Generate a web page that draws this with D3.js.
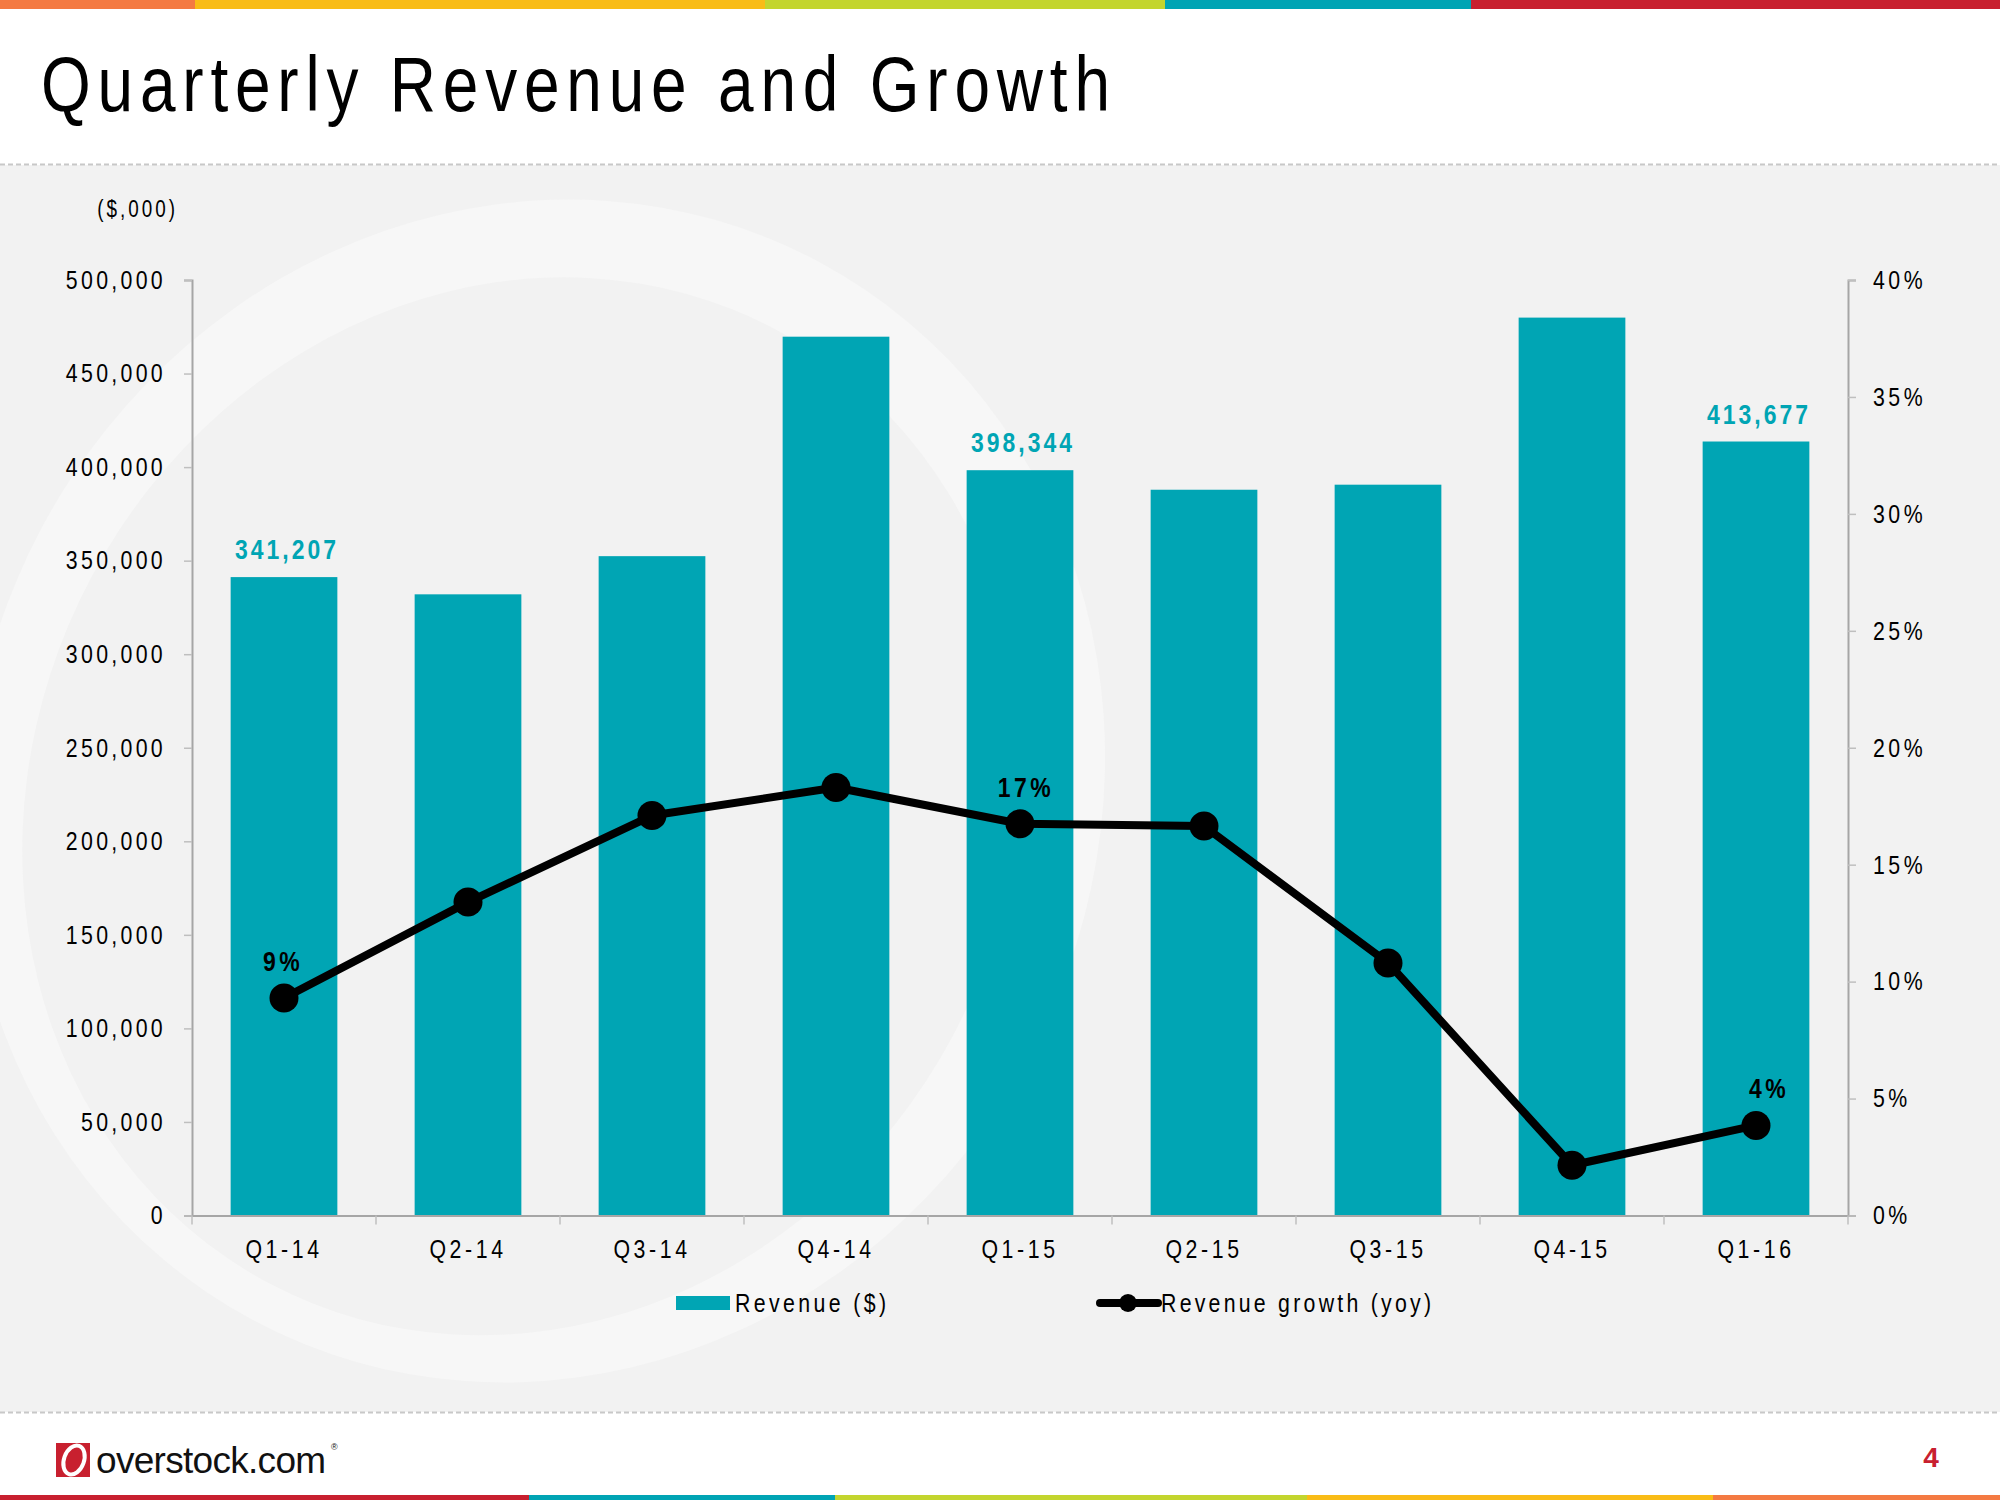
<!DOCTYPE html>
<html>
<head>
<meta charset="utf-8">
<script src="https://cdn.jsdelivr.net/npm/d3@7"></script>
<style>
  html, body { margin: 0; padding: 0; background: #fff; }
  svg { display: block; }
</style>
</head>
<body>
<svg id="chart" width="2000" height="1500"></svg>
<script>
// ---------------- DATA ----------------
const categories = ["Q1-14", "Q2-14", "Q3-14", "Q4-14", "Q1-15", "Q2-15", "Q3-15", "Q4-15", "Q1-16"];
const revenue = [341207, 332000, 352400, 469700, 398344, 387900, 390600, 479900, 413677];
const growth = [9.3, 13.4, 17.1, 18.3, 16.75, 16.65, 10.8, 2.15, 3.85];
const revenueLabels = ["341,207", null, null, null, "398,344", null, null, null, "413,677"];
const growthLabels = ["9%", null, null, null, "17%", null, null, null, "4%"];
const leftTicks = [0, 50000, 100000, 150000, 200000, 250000, 300000, 350000, 400000, 450000, 500000];
const rightTicks = [0, 5, 10, 15, 20, 25, 30, 35, 40];
const titleText = "Quarterly Revenue and Growth";
const unitText = "($,000)";
const legendLabels = ["Revenue ($)", "Revenue growth (yoy)"];

// ---------------- STYLE ----------------
const TEAL = "#00A5B4";
const FONT = "'Liberation Sans', Arial, sans-serif";
const K = 0.82; // horizontal condensing to mimic a narrow face
const svg = d3.select("#chart");

function narrow(sel, ls) {
  sel.each(function () {
    const t = d3.select(this);
    const x0 = +t.attr("x") || 0;
    t.attr("x", x0 / K).attr("transform", `scale(${K},1)`).attr("letter-spacing", ls / K);
  });
}

// page background
svg.append("rect").attr("width", 2000).attr("height", 1500).attr("fill", "#fff");
svg.append("rect").attr("x", 0).attr("y", 165).attr("width", 2000).attr("height", 1247).attr("fill", "#F2F2F2");

// watermark ring
const wm = svg.append("g").attr("transform", "translate(536,791) rotate(28)");
wm.append("ellipse").attr("rx", 560).attr("ry", 600).attr("fill", "#F7F7F7");
wm.append("ellipse").attr("cx", -5).attr("cy", 20).attr("rx", 488).attr("ry", 540).attr("fill", "#F2F2F2");
svg.append("rect").attr("x", 0).attr("y", 1412).attr("width", 2000).attr("height", 88).attr("fill", "#fff");

// dashed separators
[164.5, 1412.5].forEach(y => {
  svg.append("line").attr("x1", 0).attr("x2", 2000).attr("y1", y).attr("y2", y)
    .attr("stroke", "#C8C8C8").attr("stroke-width", 2).attr("stroke-dasharray", "5,3");
});

// top & bottom stripes
const topStripe = [[0, 195, "#F47A42"], [195, 765, "#F9BC16"], [765, 1165, "#C3D52E"], [1165, 1471, "#00A4B4"], [1471, 2000, "#C8202F"]];
topStripe.forEach(s => svg.append("rect").attr("x", s[0]).attr("y", 0).attr("width", s[1] - s[0]).attr("height", 9).attr("fill", s[2]));
const botStripe = [[0, 529, "#C8202F"], [529, 835, "#00A4B4"], [835, 1307, "#C3D52E"], [1307, 1713, "#F9BC16"], [1713, 2000, "#F47A42"]];
botStripe.forEach(s => svg.append("rect").attr("x", s[0]).attr("y", 1495).attr("width", s[1] - s[0]).attr("height", 5).attr("fill", s[2]));

// title
svg.append("text").attr("x", 41 / K).attr("y", 111).attr("transform", `scale(${K},1)`)
  .attr("font-family", FONT).attr("font-size", 78).attr("fill", "#000")
  .attr("textLength", 1069 / K).attr("lengthAdjust", "spacing")
  .text(titleText);

// ---------------- SCALES ----------------
const plotL = 192, plotR = 1848, plotT = 280, plotB = 1215.5;
const x = d3.scaleBand().domain(categories).range([plotL, plotR]).paddingInner(0.42).paddingOuter(0.21);
const yL = d3.scaleLinear().domain([0, 500000]).range([plotB, plotT]);
const yR = d3.scaleLinear().domain([0, 40]).range([plotB, plotT]);

// unit label
svg.append("text").attr("x", 178).attr("y", 217).attr("text-anchor", "end")
  .attr("font-family", FONT).attr("font-size", 23).attr("fill", "#000")
  .text(unitText).call(narrow, 3);

// ---------------- AXES ----------------
function styleAxis(g) {
  g.select(".domain").attr("stroke", "#A6A6A6").attr("stroke-width", 2);
  g.selectAll(".tick line").attr("stroke", "#BFBFBF").attr("stroke-width", 1.5);
  g.selectAll(".tick text").attr("font-family", FONT).attr("font-size", 26).attr("fill", "#000");
}
const gL = svg.append("g").attr("transform", `translate(${plotL},0)`)
  .call(d3.axisLeft(yL).tickValues(leftTicks).tickFormat(d3.format(",")).tickSize(8).tickSizeOuter(8).tickPadding(18));
styleAxis(gL);
gL.selectAll(".tick text").call(narrow, 3.3);

const gR = svg.append("g").attr("transform", `translate(${plotR},0)`)
  .call(d3.axisRight(yR).tickValues(rightTicks).tickFormat(d => d + "%").tickSize(8).tickSizeOuter(8).tickPadding(17));
styleAxis(gR);
gR.selectAll(".tick text").call(narrow, 3.5);

// bars
svg.append("g").selectAll("rect").data(categories).join("rect")
  .attr("x", d => x(d)).attr("width", x.bandwidth())
  .attr("y", (d, i) => yL(revenue[i])).attr("height", (d, i) => plotB - yL(revenue[i]))
  .attr("fill", TEAL);

// bottom axis
const gB = svg.append("g").attr("transform", `translate(0,${plotB})`)
  .call(d3.axisBottom(x).tickSize(0).tickSizeOuter(0).tickPadding(24));
styleAxis(gB);
gB.selectAll(".tick text").call(narrow, 3.6);
const boundaries = categories.map(c => x(c) - x.step() * x.paddingOuter()).concat([plotR]);
gB.selectAll(".bnd").data(boundaries).join("line").attr("class", "bnd")
  .attr("x1", d => d).attr("x2", d => d).attr("y1", 0).attr("y2", 9)
  .attr("stroke", "#BFBFBF").attr("stroke-width", 1.5);

// revenue data labels
svg.append("g").selectAll("text").data(categories).join("text")
  .filter((d, i) => revenueLabels[i])
  .attr("x", d => x(d) + x.bandwidth() / 2 + 3)
  .attr("y", d => yL(revenue[categories.indexOf(d)]) - 18)
  .attr("text-anchor", "middle").attr("font-family", FONT).attr("font-size", 28)
  .attr("font-weight", "bold").attr("fill", TEAL)
  .text(d => revenueLabels[categories.indexOf(d)])
  .call(narrow, 3);

// growth line
const line = d3.line().x((d, i) => x(categories[i]) + x.bandwidth() / 2).y(d => yR(d));
svg.append("path").datum(growth).attr("d", line)
  .attr("fill", "none").attr("stroke", "#000").attr("stroke-width", 8).attr("stroke-linejoin", "round");
svg.append("g").selectAll("circle").data(growth).join("circle")
  .attr("cx", (d, i) => x(categories[i]) + x.bandwidth() / 2).attr("cy", d => yR(d))
  .attr("r", 14.5).attr("fill", "#000");

// growth labels
svg.append("g").selectAll("text").data(growth).join("text")
  .filter((d, i) => growthLabels[i])
  .attr("x", (d) => { const i = growth.indexOf(d); return x(categories[i]) + x.bandwidth() / 2 + (i === 8 ? 13 : i === 4 ? 6 : -1); })
  .attr("y", d => yR(d) - 27)
  .attr("text-anchor", "middle").attr("font-family", FONT).attr("font-size", 28)
  .attr("font-weight", "bold").attr("fill", "#000")
  .text(d => growthLabels[growth.indexOf(d)])
  .call(narrow, 3.5);

// ---------------- LEGEND ----------------
const lg = svg.append("g");
lg.append("rect").attr("x", 676).attr("y", 1296).attr("width", 54).attr("height", 14).attr("fill", TEAL);
lg.append("text").attr("x", 735 / K).attr("y", 1312).attr("transform", `scale(${K},1)`)
  .attr("font-family", FONT).attr("font-size", 26)
  .attr("textLength", 151 / K).attr("lengthAdjust", "spacing").attr("fill", "#000").text(legendLabels[0]);
lg.append("line").attr("x1", 1100).attr("x2", 1158).attr("y1", 1303).attr("y2", 1303)
  .attr("stroke", "#000").attr("stroke-width", 8).attr("stroke-linecap", "round");
lg.append("circle").attr("cx", 1128).attr("cy", 1303).attr("r", 9).attr("fill", "#000");
lg.append("text").attr("x", 1161 / K).attr("y", 1312).attr("transform", `scale(${K},1)`)
  .attr("font-family", FONT).attr("font-size", 26)
  .attr("textLength", 270 / K).attr("lengthAdjust", "spacing").attr("fill", "#000").text(legendLabels[1]);

// ---------------- FOOTER ----------------
svg.append("rect").attr("x", 56).attr("y", 1443).attr("width", 34).attr("height", 34).attr("fill", "#C8202F");
svg.append("ellipse").attr("cx", 74).attr("cy", 1460).attr("rx", 10).attr("ry", 15)
  .attr("transform", "rotate(20,74,1460)").attr("fill", "none").attr("stroke", "#fff").attr("stroke-width", 4);
svg.append("text").attr("x", 96).attr("y", 1473).attr("font-family", FONT)
  .attr("font-size", 37).attr("letter-spacing", -0.7).attr("fill", "#111").text("overstock.com");
svg.append("text").attr("x", 331).attr("y", 1450).attr("font-family", FONT)
  .attr("font-size", 9).attr("fill", "#111").text("®");
svg.append("text").attr("x", 1931).attr("y", 1467).attr("text-anchor", "middle")
  .attr("font-family", FONT).attr("font-size", 28).attr("font-weight", "bold")
  .attr("fill", "#C8202F").text("4");
</script>
</body>
</html>
